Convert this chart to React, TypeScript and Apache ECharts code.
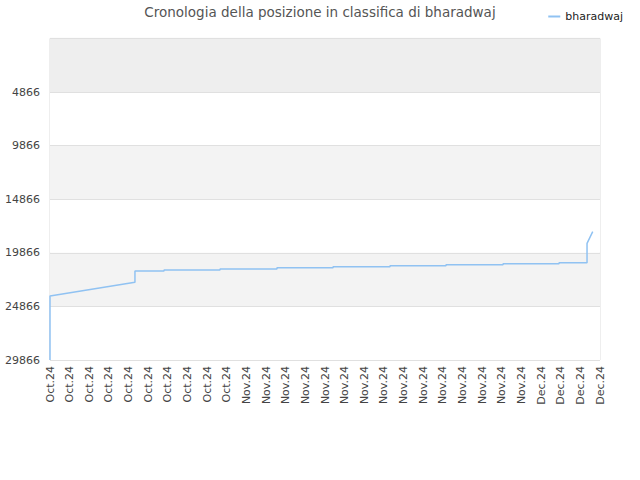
import React, { useEffect, useRef } from "react";
import * as echarts from "echarts";

const TITLE = "Cronologia della posizione in classifica di bharadwaj";
const SERIES_NAME = "bharadwaj";

// x tick labels (one every 2 days)
const X_LABELS: string[] = [
  ...Array(10).fill("Oct.24"),
  ...Array(15).fill("Nov.24"),
  ...Array(4).fill("Dec.24"),
];

// series points: day index and rank
const DAYS: number[] = [
  0, 0, 8.65, 8.65, 11.61, 11.61, 17.31, 17.31, 23.11, 23.11, 28.82, 28.82,
  34.62, 34.62, 40.32, 40.32, 46.13, 46.13, 51.83, 51.83, 54.68, 54.68, 55.26,
];
const RANKS: number[] = [
  29866, 23895, 22617, 21563, 21563, 21470, 21470, 21377, 21377, 21265, 21265,
  21162, 21162, 21069, 21069, 20976, 20976, 20883, 20883, 20790, 20790, 18980,
  17897,
];

const Y_MIN = -134;
const Y_MAX = 29866;
const Y_STEP = 5000;

export default function App() {
  const ref = useRef<HTMLDivElement>(null);
  useEffect(() => {
    if (!ref.current) return;
    const chart = echarts.init(ref.current, null, { renderer: "svg" });
    const font = "DejaVu Sans";
    chart.setOption({
      animation: false,
      backgroundColor: "#ffffff",
      title: {
        text: TITLE,
        left: "center",
        top: 0,
        textStyle: { fontFamily: font, fontSize: 13.5, fontWeight: "normal", color: "#555555" },
      },
      legend: {
        data: [SERIES_NAME],
        right: 12,
        top: 6,
        icon: "rect",
        itemWidth: 12,
        itemHeight: 2,
        itemGap: 6,
        textStyle: { fontFamily: font, fontSize: 11, color: "#222222" },
      },
      grid: {
        left: 50,
        right: 40,
        top: 38.4,
        bottom: 120,
        show: true,
        borderColor: "#dddddd",
        borderWidth: 1,
        backgroundColor: "transparent",
      },
      xAxis: {
        type: "value",
        min: 0,
        max: (X_LABELS.length - 1) * 2,
        interval: 2,
        axisLine: { show: false },
        axisTick: { show: false },
        splitLine: { show: false },
        axisLabel: {
          rotate: 90,
          fontFamily: font,
          fontSize: 11,
          color: "#444444",
          margin: 6,
          showMinLabel: true,
          showMaxLabel: true,
          formatter: (v: number) => X_LABELS[Math.round(v / 2)] ?? "",
        },
      },
      yAxis: {
        type: "value",
        inverse: true,
        min: Y_MIN,
        max: Y_MAX,
        interval: Y_STEP,
        axisLine: { show: false },
        axisTick: { show: false },
        axisLabel: {
          fontFamily: font,
          fontSize: 11,
          color: "#444444",
          margin: 10,
          formatter: (v: number) => (v < 0 ? "" : String(v)),
        },
        splitLine: { show: true, lineStyle: { color: "#e0e0e0", width: 1 } },
        splitArea: {
          show: true,
          areaStyle: {
            color: ["#eeeeee", "#ffffff", "#f3f3f3", "#ffffff", "#f3f3f3", "#ffffff"],
          },
        },
      },
      series: [
        {
          name: SERIES_NAME,
          type: "line",
          showSymbol: false,
          symbol: "none",
          data: DAYS.map((d, i) => [d, RANKS[i]]),
          lineStyle: { color: "#90c2f2", width: 1.5 },
          itemStyle: { color: "#90c2f2" },
        },
      ],
    });
    return () => chart.dispose();
  }, []);
  return (
    <div
      ref={ref}
      style={{ position: "fixed", left: 0, top: 0, width: 640, height: 480 }}
    />
  );
}
